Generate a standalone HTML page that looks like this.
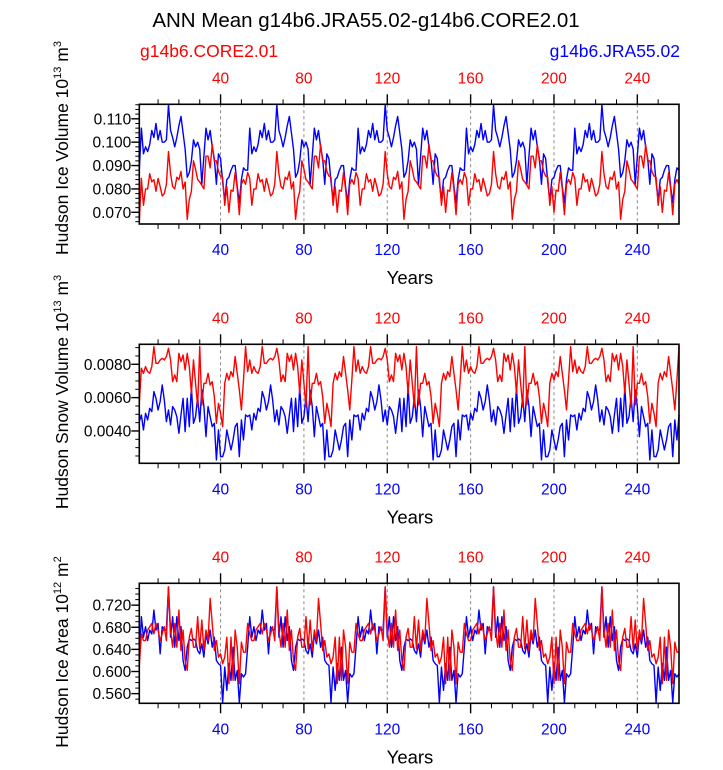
<!DOCTYPE html>
<html><head><meta charset="utf-8"><style>
html,body{margin:0;padding:0;background:#fff}
svg text{font-family:"Liberation Sans",Arial,sans-serif}
</style></head><body>
<svg id="chart" width="723" height="765" viewBox="0 0 723 765" xmlns="http://www.w3.org/2000/svg">
<text x="366" y="27" font-size="20.5" text-anchor="middle">ANN Mean g14b6.JRA55.02-g14b6.CORE2.01</text>
<text x="140" y="57" font-size="17.5" fill="#ff0000">g14b6.CORE2.01</text>
<text x="680" y="57" font-size="17.5" fill="#0000ff" text-anchor="end">g14b6.JRA55.02</text>
<g id="plots"></g>
</svg>
<script>
// years 1..260
const yearStart = 1, yearEnd = 260;
const xTickVals = [40,80,120,160,200,240];

// Panel 1: Hudson Ice Volume (1e13 m^3)
const iceVolJRA = [
0.088,0.106,0.095,0.098,0.096,0.099,0.105,0.102,0.108,0.101,0.105,0.100,0.100,0.101,0.116,0.105,0.102,0.098,0.102,0.107,0.111,0.104,0.097,0.085,0.087,0.092,0.101,0.098,0.100,0.097,0.082,0.094,0.106,0.101,0.105,0.098,0.093,0.082,0.095,0.093,0.083,0.075,0.084,0.085,0.088,0.090,0.090,0.081,0.074,0.084,0.089,0.088,
0.088,0.106,0.095,0.098,0.096,0.099,0.105,0.102,0.108,0.101,0.105,0.100,0.100,0.101,0.116,0.105,0.102,0.098,0.102,0.107,0.111,0.104,0.097,0.085,0.087,0.092,0.101,0.098,0.100,0.097,0.082,0.094,0.106,0.101,0.105,0.098,0.093,0.082,0.095,0.093,0.083,0.075,0.084,0.085,0.088,0.090,0.090,0.081,0.074,0.084,0.089,0.088,
0.088,0.106,0.095,0.098,0.096,0.099,0.105,0.102,0.108,0.101,0.105,0.100,0.100,0.101,0.116,0.105,0.102,0.098,0.102,0.107,0.111,0.104,0.097,0.085,0.087,0.092,0.101,0.098,0.100,0.097,0.082,0.094,0.106,0.101,0.105,0.098,0.093,0.082,0.095,0.093,0.083,0.075,0.084,0.085,0.088,0.090,0.090,0.081,0.074,0.084,0.089,0.088,
0.088,0.106,0.095,0.098,0.096,0.099,0.105,0.102,0.108,0.101,0.105,0.100,0.100,0.101,0.116,0.105,0.102,0.098,0.102,0.107,0.111,0.104,0.097,0.085,0.087,0.092,0.101,0.098,0.100,0.097,0.082,0.094,0.106,0.101,0.105,0.098,0.093,0.082,0.095,0.093,0.083,0.075,0.084,0.085,0.088,0.090,0.090,0.081,0.074,0.084,0.089,0.088,
0.088,0.106,0.095,0.098,0.096,0.099,0.105,0.102,0.108,0.101,0.105,0.100,0.100,0.101,0.116,0.105,0.102,0.098,0.102,0.107,0.111,0.104,0.097,0.085,0.087,0.092,0.101,0.098,0.100,0.097,0.082,0.094,0.106,0.101,0.105,0.098,0.093,0.082,0.095,0.093,0.083,0.075,0.084,0.085,0.088,0.090,0.090,0.081,0.074,0.084,0.089,0.088];
const iceVolCORE = [
0.066,0.0845,0.073,0.080,0.080,0.0865,0.083,0.084,0.079,0.0845,0.081,0.077,0.078,0.082,0.096,0.0865,0.081,0.080,0.085,0.084,0.0875,0.080,0.083,0.067,0.0755,0.079,0.092,0.0885,0.084,0.083,0.0815,0.080,0.094,0.094,0.089,0.099,0.092,0.092,0.0875,0.0855,0.085,0.073,0.081,0.070,0.0795,0.079,0.087,0.080,0.069,0.082,0.084,0.082,
0.087,0.0845,0.073,0.080,0.080,0.0865,0.083,0.084,0.079,0.0845,0.081,0.077,0.078,0.082,0.096,0.0865,0.081,0.080,0.085,0.084,0.0875,0.080,0.083,0.067,0.0755,0.079,0.092,0.0885,0.084,0.083,0.0815,0.080,0.094,0.094,0.089,0.099,0.092,0.092,0.0875,0.0855,0.085,0.073,0.081,0.070,0.0795,0.079,0.087,0.080,0.069,0.082,0.084,0.082,
0.087,0.0845,0.073,0.080,0.080,0.0865,0.083,0.084,0.079,0.0845,0.081,0.077,0.078,0.082,0.096,0.0865,0.081,0.080,0.085,0.084,0.0875,0.080,0.083,0.067,0.0755,0.079,0.092,0.0885,0.084,0.083,0.0815,0.080,0.094,0.094,0.089,0.099,0.092,0.092,0.0875,0.0855,0.085,0.073,0.081,0.070,0.0795,0.079,0.087,0.080,0.069,0.082,0.084,0.082,
0.087,0.0845,0.073,0.080,0.080,0.0865,0.083,0.084,0.079,0.0845,0.081,0.077,0.078,0.082,0.096,0.0865,0.081,0.080,0.085,0.084,0.0875,0.080,0.083,0.067,0.0755,0.079,0.092,0.0885,0.084,0.083,0.0815,0.080,0.094,0.094,0.089,0.099,0.092,0.092,0.0875,0.0855,0.085,0.073,0.081,0.070,0.0795,0.079,0.087,0.080,0.069,0.082,0.084,0.082,
0.087,0.0845,0.073,0.080,0.080,0.0865,0.083,0.084,0.079,0.0845,0.081,0.077,0.078,0.082,0.096,0.0865,0.081,0.080,0.085,0.084,0.0875,0.080,0.083,0.067,0.0755,0.079,0.092,0.0885,0.084,0.083,0.0815,0.080,0.094,0.094,0.089,0.099,0.092,0.092,0.0875,0.0855,0.085,0.073,0.081,0.070,0.0795,0.079,0.087,0.080,0.069,0.082,0.084,0.082];
const iceVolTicks = [0.070,0.080,0.090,0.100,0.110];
const iceVolTickLabels = ["0.070","0.080","0.090","0.100","0.110"];

// Panel 2: Hudson Snow Volume (values in 1e-3 * 1e13 m^3)
const snowJRA = [
4.56,4.96,4.06,5.06,4.66,5.36,5.16,6.36,5.96,5.26,5.76,6.76,5.86,4.56,5.26,4.36,5.46,5.26,4.86,3.86,4.96,5.96,3.96,5.96,4.26,6.66,4.46,4.86,6.06,4.56,6.46,5.46,3.66,5.46,4.86,4.26,4.46,2.26,4.06,2.46,2.46,2.86,4.06,3.46,2.86,3.46,4.26,4.46,2.46,4.66,3.46,4.96,
4.86,4.96,4.06,5.06,4.66,5.36,5.16,6.36,5.96,5.26,5.76,6.76,5.86,4.56,5.26,4.36,5.46,5.26,4.86,3.86,4.96,5.96,3.96,5.96,4.26,6.66,4.46,4.86,6.06,4.56,6.46,5.46,3.66,5.46,4.86,4.26,4.46,2.26,4.06,2.46,2.46,2.86,4.06,3.46,2.86,3.46,4.26,4.46,2.46,4.66,3.46,4.96,
4.86,4.96,4.06,5.06,4.66,5.36,5.16,6.36,5.96,5.26,5.76,6.76,5.86,4.56,5.26,4.36,5.46,5.26,4.86,3.86,4.96,5.96,3.96,5.96,4.26,6.66,4.46,4.86,6.06,4.56,6.46,5.46,3.66,5.46,4.86,4.26,4.46,2.26,4.06,2.46,2.46,2.86,4.06,3.46,2.86,3.46,4.26,4.46,2.46,4.66,3.46,4.96,
4.86,4.96,4.06,5.06,4.66,5.36,5.16,6.36,5.96,5.26,5.76,6.76,5.86,4.56,5.26,4.36,5.46,5.26,4.86,3.86,4.96,5.96,3.96,5.96,4.26,6.66,4.46,4.86,6.06,4.56,6.46,5.46,3.66,5.46,4.86,4.26,4.46,2.26,4.06,2.46,2.46,2.86,4.06,3.46,2.86,3.46,4.26,4.46,2.46,4.66,3.46,4.96,
4.86,4.96,4.06,5.06,4.66,5.36,5.16,6.36,5.96,5.26,5.76,6.76,5.86,4.56,5.26,4.36,5.46,5.26,4.86,3.86,4.96,5.96,3.96,5.96,4.26,6.66,4.46,4.86,6.06,4.56,6.46,5.46,3.66,5.46,4.86,4.26,4.46,2.26,4.06,2.46,2.46,2.86,4.06,3.46,2.86,3.46,4.26,4.46,2.46,4.66,3.46,4.96];
const snowCORE = [
5.66,7.76,7.46,7.86,7.56,7.46,7.86,9.06,8.06,8.06,8.26,8.36,8.26,8.46,8.96,8.26,6.96,7.36,6.96,8.66,8.16,8.56,7.66,8.66,7.86,6.26,8.26,6.86,5.46,9.06,5.56,6.86,6.86,7.46,6.76,6.96,6.06,4.46,5.66,5.06,4.26,6.86,7.46,7.06,7.56,7.26,8.46,7.46,6.46,5.26,7.06,9.06,
7.56,8.26,7.46,7.86,7.56,7.46,7.86,9.06,8.06,8.06,8.26,8.36,8.26,8.46,8.96,8.26,6.96,7.36,6.96,8.66,8.16,8.56,7.66,8.66,7.86,6.26,8.26,6.86,5.46,9.06,5.56,6.86,6.86,7.46,6.76,6.96,6.06,4.46,5.66,5.06,4.26,6.86,7.46,7.06,7.56,7.26,8.46,7.46,6.46,5.26,7.06,9.06,
7.56,8.26,7.46,7.86,7.56,7.46,7.86,9.06,8.06,8.06,8.26,8.36,8.26,8.46,8.96,8.26,6.96,7.36,6.96,8.66,8.16,8.56,7.66,8.66,7.86,6.26,8.26,6.86,5.46,9.06,5.56,6.86,6.86,7.46,6.76,6.96,6.06,4.46,5.66,5.06,4.26,6.86,7.46,7.06,7.56,7.26,8.46,7.46,6.46,5.26,7.06,9.06,
7.56,8.26,7.46,7.86,7.56,7.46,7.86,9.06,8.06,8.06,8.26,8.36,8.26,8.46,8.96,8.26,6.96,7.36,6.96,8.66,8.16,8.56,7.66,8.66,7.86,6.26,8.26,6.86,5.46,9.06,5.56,6.86,6.86,7.46,6.76,6.96,6.06,4.46,5.66,5.06,4.26,6.86,7.46,7.06,7.56,7.26,8.46,7.46,6.46,5.26,7.06,9.06,
7.56,8.26,7.46,7.86,7.56,7.46,7.86,9.06,8.06,8.06,8.26,8.36,8.26,8.46,8.96,8.26,6.96,7.36,6.96,8.66,8.16,8.56,7.66,8.66,7.86,6.26,8.26,6.86,5.46,9.06,5.56,6.86,6.86,7.46,6.76,6.96,6.06,4.46,5.66,5.06,4.26,6.86,7.46,7.06,7.56,7.26,8.46,7.46,6.46,5.26,7.06,9.06];
const snowTicks = [4,6,8];
const snowTickLabels = ["0.0040","0.0060","0.0080"];

// Panel 3: Hudson Ice Area (1e12 m^2)
const areaJRA = [
0.620,0.699,0.662,0.681,0.656,0.675,0.668,0.711,0.675,0.687,0.632,0.681,0.675,0.675,0.753,0.662,0.699,0.644,0.699,0.656,0.681,0.620,0.602,0.644,0.659,0.656,0.659,0.656,0.638,0.632,0.650,0.626,0.668,0.650,0.675,0.644,0.662,0.620,0.614,0.611,0.544,0.608,0.566,0.614,0.584,0.644,0.584,0.602,0.544,0.596,0.590,0.596,
0.644,0.699,0.662,0.681,0.656,0.675,0.668,0.711,0.675,0.687,0.632,0.681,0.675,0.675,0.753,0.662,0.699,0.644,0.699,0.656,0.681,0.620,0.602,0.644,0.659,0.656,0.659,0.656,0.638,0.632,0.650,0.626,0.668,0.650,0.675,0.644,0.662,0.620,0.614,0.611,0.544,0.608,0.566,0.614,0.584,0.644,0.584,0.602,0.544,0.596,0.590,0.596,
0.644,0.699,0.662,0.681,0.656,0.675,0.668,0.711,0.675,0.687,0.632,0.681,0.675,0.675,0.753,0.662,0.699,0.644,0.699,0.656,0.681,0.620,0.602,0.644,0.659,0.656,0.659,0.656,0.638,0.632,0.650,0.626,0.668,0.650,0.675,0.644,0.662,0.620,0.614,0.611,0.544,0.608,0.566,0.614,0.584,0.644,0.584,0.602,0.544,0.596,0.590,0.596,
0.644,0.699,0.662,0.681,0.656,0.675,0.668,0.711,0.675,0.687,0.632,0.681,0.675,0.675,0.753,0.662,0.699,0.644,0.699,0.656,0.681,0.620,0.602,0.644,0.659,0.656,0.659,0.656,0.638,0.632,0.650,0.626,0.668,0.650,0.675,0.644,0.662,0.620,0.614,0.611,0.544,0.608,0.566,0.614,0.584,0.644,0.584,0.602,0.544,0.596,0.590,0.596,
0.644,0.699,0.662,0.681,0.656,0.675,0.668,0.711,0.675,0.687,0.632,0.681,0.675,0.675,0.753,0.662,0.699,0.644,0.699,0.656,0.681,0.620,0.602,0.644,0.659,0.656,0.659,0.656,0.638,0.632,0.650,0.626,0.668,0.650,0.675,0.644,0.662,0.620,0.614,0.611,0.544,0.608,0.566,0.614,0.584,0.644,0.584,0.602,0.544,0.596,0.590,0.596];
const areaCORE = [
0.611,0.668,0.656,0.656,0.675,0.681,0.687,0.668,0.687,0.675,0.656,0.668,0.681,0.656,0.753,0.675,0.644,0.687,0.644,0.711,0.638,0.675,0.620,0.602,0.662,0.678,0.644,0.644,0.699,0.641,0.693,0.638,0.675,0.656,0.732,0.687,0.638,0.656,0.626,0.632,0.614,0.626,0.662,0.578,0.662,0.584,0.675,0.644,0.578,0.653,0.635,0.635,
0.687,0.668,0.656,0.656,0.675,0.681,0.687,0.668,0.687,0.675,0.656,0.668,0.681,0.656,0.753,0.675,0.644,0.687,0.644,0.711,0.638,0.675,0.620,0.602,0.662,0.678,0.644,0.644,0.699,0.641,0.693,0.638,0.675,0.656,0.732,0.687,0.638,0.656,0.626,0.632,0.614,0.626,0.662,0.578,0.662,0.584,0.675,0.644,0.578,0.653,0.635,0.635,
0.687,0.668,0.656,0.656,0.675,0.681,0.687,0.668,0.687,0.675,0.656,0.668,0.681,0.656,0.753,0.675,0.644,0.687,0.644,0.711,0.638,0.675,0.620,0.602,0.662,0.678,0.644,0.644,0.699,0.641,0.693,0.638,0.675,0.656,0.732,0.687,0.638,0.656,0.626,0.632,0.614,0.626,0.662,0.578,0.662,0.584,0.675,0.644,0.578,0.653,0.635,0.635,
0.687,0.668,0.656,0.656,0.675,0.681,0.687,0.668,0.687,0.675,0.656,0.668,0.681,0.656,0.753,0.675,0.644,0.687,0.644,0.711,0.638,0.675,0.620,0.602,0.662,0.678,0.644,0.644,0.699,0.641,0.693,0.638,0.675,0.656,0.732,0.687,0.638,0.656,0.626,0.632,0.614,0.626,0.662,0.578,0.662,0.584,0.675,0.644,0.578,0.653,0.635,0.635,
0.687,0.668,0.656,0.656,0.675,0.681,0.687,0.668,0.687,0.675,0.656,0.668,0.681,0.656,0.753,0.675,0.644,0.687,0.644,0.711,0.638,0.675,0.620,0.602,0.662,0.678,0.644,0.644,0.699,0.641,0.693,0.638,0.675,0.656,0.732,0.687,0.638,0.656,0.626,0.632,0.614,0.626,0.662,0.578,0.662,0.584,0.675,0.644,0.578,0.653,0.635,0.635];
const areaTicks = [0.560,0.600,0.640,0.680,0.720];
const areaTickLabels = ["0.560","0.600","0.640","0.680","0.720"];

const NS = "http://www.w3.org/2000/svg";
const X0 = 139.3, X1 = 679;
function xs(yr){ return X0 + (yr - yearStart) / (yearEnd - yearStart) * (X1 - X0); }
function mk(tag, attrs, parent){
  const e = document.createElementNS(NS, tag);
  for (const k in attrs) e.setAttribute(k, attrs[k]);
  parent.appendChild(e); return e;
}
const root = document.getElementById('plots');

const panels = [
 {name:'ice-volume', top:104.3, bot:224, lo:0.0650, hi:0.1162, minor:0.002, ticks:iceVolTicks, labels:iceVolTickLabels, jra:iceVolJRA, core:iceVolCORE, title:['Hudson Ice Volume 10','13',' m','3'], tcy:148},
 {name:'snow-volume', top:344.3, bot:463.3, lo:2.06, hi:9.2, minor:0.5, ticks:snowTicks, labels:snowTickLabels, jra:snowJRA, core:snowCORE, title:['Hudson Snow Volume 10','13',' m','3'], tcy:392},
 {name:'ice-area', top:583.3, bot:703.3, lo:0.5425, hi:0.7595, minor:0.01, ticks:areaTicks, labels:areaTickLabels, jra:areaJRA, core:areaCORE, title:['Hudson Ice Area 10','12',' m','2'], tcy:652}
];

panels.forEach(p => {
  const g = mk('g', {}, root);
  
  
  const ys = v => p.bot - (v - p.lo) / (p.hi - p.lo) * (p.bot - p.top);

  xTickVals.forEach(t => {
    const l = mk('line', {x1:xs(t), x2:xs(t), y1:p.top, y2:p.bot, stroke:'#888', 'stroke-width':1, 'stroke-dasharray':'3,3'}, g);
    
    
  });

  [['jra', p.jra, '#0000ff'], ['core', p.core, '#ff0000']].forEach(([nm, arr, col]) => {
    const d = arr.map((v, i) => (i ? 'L' : 'M') + xs(yearStart + i).toFixed(2) + ',' + ys(Math.max(p.lo, Math.min(p.hi, v))).toFixed(2)).join('');
    const path = mk('path', {d:d, fill:'none', stroke:col, 'stroke-width':1.4, 'stroke-linejoin':'round'}, g);
    
    
  });

  const fr = mk('rect', {x:X0, y:p.top, width:X1 - X0, height:p.bot - p.top, fill:'none', stroke:'#000', 'stroke-width':1.6}, g);
  
  

  for (let t = 10; t <= 260; t += 10) {
    const major = t % 40 === 0;
    const len = major ? 10 : 5;
    if (t < yearEnd) {
      mk('line', {x1:xs(t), x2:xs(t), y1:p.top, y2:p.top - len, stroke:'#000', 'stroke-width':major ? 1.4 : 1}, g);
      mk('line', {x1:xs(t), x2:xs(t), y1:p.bot, y2:p.bot + len, stroke:'#000', 'stroke-width':major ? 1.4 : 1}, g);
    }
  }
  xTickVals.forEach(t => {
    const a = mk('text', {x:xs(t), y:p.top - 21, 'font-size':15.5, fill:'#ff0000', 'text-anchor':'middle'}, g);
    a.textContent = t;
    
    
    const b = mk('text', {x:xs(t), y:p.bot + 31, 'font-size':15.5, fill:'#0000ff', 'text-anchor':'middle'}, g);
    b.textContent = t;
    
    
  });
  const yt = mk('text', {x:410, y:p.bot + 60, 'font-size':18.5, 'text-anchor':'middle'}, g);
  yt.textContent = 'Years';
  
  

  const n0 = Math.ceil(p.lo / p.minor), n1 = Math.floor(p.hi / p.minor);
  for (let n = n0; n <= n1; n++) {
    const v = n * p.minor;
    mk('line', {x1:X0, x2:X0 - 4, y1:ys(v), y2:ys(v), stroke:'#000', 'stroke-width':1}, g);
  }
  p.ticks.forEach((v, i) => {
    mk('line', {x1:X0, x2:X0 - 8, y1:ys(v), y2:ys(v), stroke:'#000', 'stroke-width':1.4}, g);
    const t = mk('text', {x:X0 - 8, y:ys(v) + 5.5, 'font-size':15.5, 'text-anchor':'end'}, g);
    t.textContent = p.labels[i];
    
    
  });

  const tt = mk('text', {x:0, y:0, 'font-size':17.5, 'text-anchor':'middle', transform:'translate(68,' + p.tcy + ') rotate(-90)'}, g);
  
  
  const s1 = mk('tspan', {}, tt); s1.textContent = p.title[0];
  const s2 = mk('tspan', {dy:-7, 'font-size':11}, tt); s2.textContent = p.title[1];
  const s3 = mk('tspan', {dy:7}, tt); s3.textContent = p.title[2];
  const s4 = mk('tspan', {dy:-7, 'font-size':11}, tt); s4.textContent = p.title[3];
});
</script>
</body></html>
